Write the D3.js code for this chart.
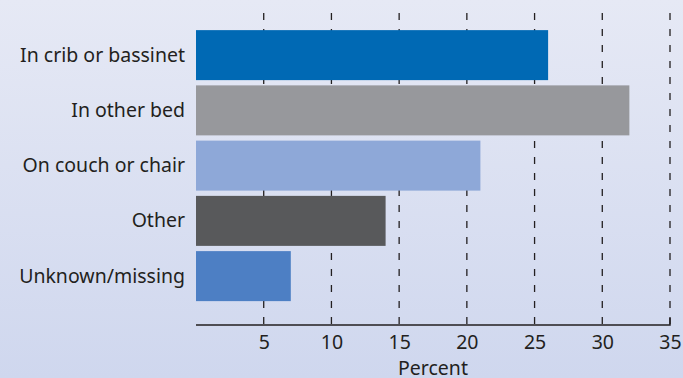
<!DOCTYPE html>
<html>
<head>
<meta charset="utf-8">
<script src="https://cdn.jsdelivr.net/npm/d3@7"></script>
<style>
  html, body { margin: 0; padding: 0; }
  svg { display: block; }
  text { font-family: "Noto Sans", sans-serif; fill: #231f20; }
</style>
</head>
<body>
<div id="chart"></div>
<script>
// Data
const categories = ["In crib or bassinet", "In other bed", "On couch or chair", "Other", "Unknown/missing"];
const values = [26, 32, 21, 14, 7];
const barColors = ["#0069b4", "#97989c", "#8ea8d8", "#58595b", "#4d7fc4"];
const tickValues = [5, 10, 15, 20, 25, 30, 35];
const axisTitle = "Percent";

// Base variables
const w = 683;
const h = 378;
const plotLeft = 196;
const plotRight = 670;
const plotTop = 30;
const axisY = 325;
const fontSize = 19.5;

const xScale = d3.scaleLinear().domain([0, 35]).range([plotLeft, plotRight]);
const yScale = d3.scaleBand()
  .domain(categories)
  .range([plotTop - 2.5, plotTop - 2.5 + 5 * 55.25])
  .paddingInner(0.095)
  .paddingOuter(0.0475);

const svg = d3.select("#chart")
  .append("svg")
  .attr("width", w)
  .attr("height", h);

// background gradient
const grad = svg.append("defs")
  .append("linearGradient")
  .attr("id", "bg")
  .attr("x1", 0).attr("y1", 0).attr("x2", 0).attr("y2", 1);
grad.append("stop").attr("offset", "0%").attr("stop-color", "#e6e9f5");
grad.append("stop").attr("offset", "100%").attr("stop-color", "#cfd7ee");

svg.append("rect")
  .attr("width", w)
  .attr("height", h)
  .attr("fill", "url(#bg)");

// dashed grid lines
svg.append("g")
  .selectAll("line")
  .data(tickValues)
  .enter()
  .append("line")
  .attr("x1", d => xScale(d))
  .attr("x2", d => xScale(d))
  .attr("y1", 13)
  .attr("y2", axisY)
  .attr("stroke", "#231f20")
  .attr("stroke-width", 1.3)
  .attr("stroke-dasharray", "7,9");

// bars
svg.append("g")
  .selectAll("rect")
  .data(categories)
  .enter()
  .append("rect")
  .attr("x", xScale(0))
  .attr("y", d => yScale(d))
  .attr("width", (d, i) => xScale(values[i]) - xScale(0))
  .attr("height", yScale.bandwidth())
  .attr("fill", (d, i) => barColors[i]);

// category labels
svg.append("g")
  .selectAll("text")
  .data(categories)
  .enter()
  .append("text")
  .attr("x", 185)
  .attr("y", d => yScale(d) + yScale.bandwidth() / 2 + 6.5)
  .attr("text-anchor", "end")
  .attr("font-size", fontSize)
  .text(d => d);

// x-axis
const xAxis = d3.axisBottom(xScale)
  .tickValues(tickValues)
  .tickSize(0)
  .tickPadding(10);

const gx = svg.append("g")
  .attr("transform", `translate(0, ${axisY})`)
  .call(xAxis);
gx.select(".domain")
  .attr("d", `M${plotLeft},0H${plotRight}V-7`)
  .attr("stroke", "#231f20")
  .attr("stroke-width", 1.5)
  .attr("fill", "none");
gx.selectAll("text")
  .attr("font-size", fontSize)
  .attr("font-family", "'Noto Sans', sans-serif")
  .attr("fill", "#231f20");

svg.append("text")
  .attr("x", xScale(17.5))
  .attr("y", 375)
  .attr("text-anchor", "middle")
  .attr("font-size", fontSize)
  .text(axisTitle);
</script>
</body>
</html>
